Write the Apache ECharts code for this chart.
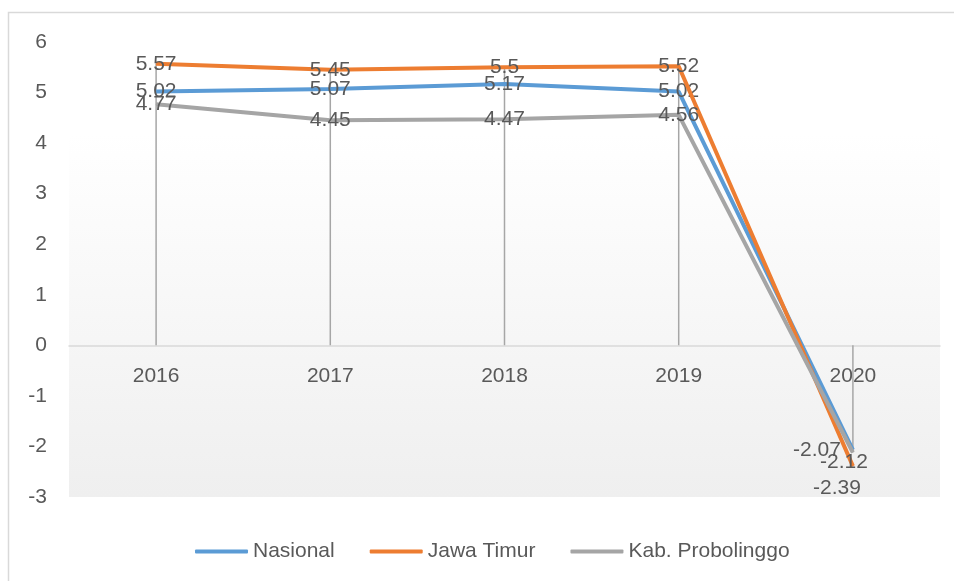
<!DOCTYPE html>
<html>
<head>
<meta charset="utf-8">
<script src="https://cdn.jsdelivr.net/npm/echarts@6/dist/echarts.min.js"></script>
<style>
  html, body { margin: 0; padding: 0; background: #fff; }
  #chart { width: 954px; height: 581px; }
</style>
</head>
<body>
<div id="chart"></div>
<script>
var years = ['2016', '2017', '2018', '2019', '2020']
var nasional = [5.02, 5.07, 5.17, 5.02, -2.07]
var jawaTimur = [5.57, 5.45, 5.5, 5.52, -2.39]
var probolinggo = [4.77, 4.45, 4.47, 4.56, -2.12]

var seriesNames = ['Nasional', 'Jawa Timur', 'Kab. Probolinggo']
var colors = ['#5b9bd5', '#ed7d31', '#a5a5a5']
// label nudges for the crowded 2020 points (index 4)
var labelOffsets = [[-36, 0], [-16, 22], [-9, 10]]

var fontFamily = '"Liberation Sans", Arial, sans-serif'
var textColor = '#595959'

var yMin = -3
var yMax = 6
var gridTop = 42
var gridBottom = 84
var gridHeight = 581 - gridTop - gridBottom
// move the category axis up to the zero line
var zeroOffset = -gridHeight * (0 - yMin) / (yMax - yMin)

var chart = echarts.init(document.getElementById('chart'))

// drop line reaches from axis to the highest point of each year
var dropLines = years.map(function (y, i) {
  return Math.max(nasional[i], jawaTimur[i], probolinggo[i])
})

function lineSeries(name, values, idx) {
  return {
    name: name,
    type: 'line',
    data: values.map(function (v, i) {
      if (i === 4) {
        return { value: v, label: { offset: labelOffsets[idx] } }
      }
      return v
    }),
    symbol: 'circle',
    symbolSize: 1,
    z: 3 + idx,
    lineStyle: { width: 4, color: colors[idx] },
    itemStyle: { color: colors[idx] },
    label: {
      show: true,
      position: 'inside',
      color: textColor,
      fontSize: 21,
      fontFamily: fontFamily
    },
    emphasis: { disabled: true }
  }
}

chart.setOption({
  animation: false,
  graphic: [{
    type: 'rect',
    shape: { x: 8.5, y: 12.5, width: 960, height: 600 },
    style: { fill: 'none', stroke: '#d9d9d9', lineWidth: 1.5 },
    silent: true,
    z: -10
  }],
  grid: {
    left: 69,
    right: 14,
    top: gridTop,
    bottom: gridBottom,
    show: true,
    borderWidth: 0,
    backgroundColor: new echarts.graphic.LinearGradient(0, 0, 0, 1, [
      { offset: 0, color: '#ffffff' },
      { offset: 0.2, color: '#ffffff' },
      { offset: 1, color: '#efefef' }
    ])
  },
  legend: {
    data: seriesNames,
    left: 190,
    top: 536,
    itemWidth: 53,
    itemHeight: 4,
    itemGap: 35,
    icon: 'roundRect',
    textStyle: { color: textColor, fontSize: 21, fontFamily: fontFamily }
  },
  xAxis: {
    type: 'category',
    data: years,
    offset: zeroOffset,
    axisLine: { onZero: false, lineStyle: { color: '#d9d9d9', width: 1.5 } },
    axisTick: { show: false },
    axisLabel: { color: textColor, fontSize: 21, fontFamily: fontFamily, margin: 20 },
    splitLine: { show: false }
  },
  yAxis: {
    type: 'value',
    min: yMin,
    max: yMax,
    interval: 1,
    axisLine: { show: false },
    axisTick: { show: false },
    splitLine: { show: false },
    axisLabel: { color: textColor, fontSize: 21, fontFamily: fontFamily, margin: 22 }
  },
  series: [
    {
      name: 'drop',
      type: 'bar',
      data: dropLines,
      barWidth: 1.5,
      z: 1,
      itemStyle: { color: '#a6a6a6' },
      emphasis: { disabled: true },
      silent: true
    },
    lineSeries(seriesNames[0], nasional, 0),
    lineSeries(seriesNames[1], jawaTimur, 1),
    lineSeries(seriesNames[2], probolinggo, 2)
  ]
})
</script>
</body>
</html>
